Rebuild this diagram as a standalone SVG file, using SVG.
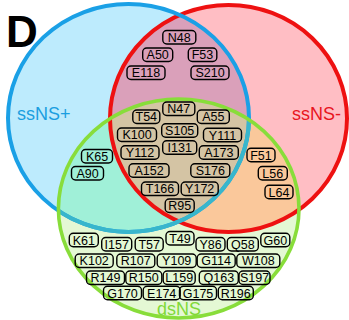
<svg xmlns="http://www.w3.org/2000/svg" width="349" height="320" viewBox="0 0 349 320">
<style>
.lb rect{fill:none;stroke:#000;stroke-width:1.4}
.lb text{font-family:"Liberation Sans",Arial,sans-serif;font-size:12.5px;fill:#000;text-anchor:middle}
.set{font-family:"Liberation Sans",Arial,sans-serif;font-size:18px}
</style>
<defs>
<clipPath id="cB"><ellipse cx="128.5" cy="118" rx="120.5" ry="114"/></clipPath>
<clipPath id="cR"><ellipse cx="228.5" cy="118.5" rx="118.5" ry="113.5"/></clipPath>
<clipPath id="cG"><ellipse cx="178.7" cy="208.5" rx="120.3" ry="109.5"/></clipPath>
</defs>
<rect width="349" height="320" fill="#fff"/>
<g id="regions">
<ellipse cx="128.5" cy="118" rx="120.5" ry="114" fill="#bdebfd"/>
<ellipse cx="228.5" cy="118.5" rx="118.5" ry="113.5" fill="#ffbec4"/>
<ellipse cx="178.7" cy="208.5" rx="120.3" ry="109.5" fill="#e4f8d4"/>
<g clip-path="url(#cB)">
<ellipse cx="228.5" cy="118.5" rx="118.5" ry="113.5" fill="#daa0ba"/>
<ellipse cx="178.7" cy="208.5" rx="120.3" ry="109.5" fill="#a0f0d8"/>
</g>
<g clip-path="url(#cR)">
<ellipse cx="178.7" cy="208.5" rx="120.3" ry="109.5" fill="#fac89b"/>
</g>
<g clip-path="url(#cB)"><g clip-path="url(#cR)">
<ellipse cx="178.7" cy="208.5" rx="120.3" ry="109.5" fill="#d4c4a4"/>
</g></g>
</g>
<g id="outlines" fill="none">
<ellipse id="ssNSminus" cx="228.5" cy="118.5" rx="118.5" ry="113.5" stroke="#ee1111" stroke-width="4"/>
<ellipse id="ssNSplus" cx="128.5" cy="118" rx="120.5" ry="114" stroke="#1aa0e6" stroke-width="4"/>
<ellipse cx="128.5" cy="118" rx="120.5" ry="114" stroke="#38b6cc" stroke-width="4" clip-path="url(#cG)"/>
<ellipse id="dsNS" cx="178.7" cy="208.5" rx="120.3" ry="109.5" stroke="#88dd3a" stroke-width="3.6"/>
</g>
<g id="connectors"/>
<text x="6" y="47" font-family="Liberation Sans,Arial,sans-serif" font-size="44" font-weight="bold" fill="#000">D</text>
<text class="set" x="17" y="120" fill="#1a9ee0">ssNS+</text>
<text class="set" x="292" y="119.5" fill="#e8141e">ssNS-</text>
<text class="set" x="157" y="315" fill="#80d838">dsNS</text>
<g class="lb">
<g id="N48"><rect x="162.8" y="30.5" width="33" height="13.5" rx="4"/><text x="179.3" y="41.7">N48</text></g>
<g id="A50"><rect x="142.7" y="48" width="30" height="13.5" rx="4"/><text x="157.7" y="59.2">A50</text></g>
<g id="F53"><rect x="188.3" y="48" width="28.5" height="13.5" rx="4"/><text x="202.5" y="59.2">F53</text></g>
<g id="E118"><rect x="127" y="66" width="38" height="13.5" rx="4"/><text x="146" y="77.2">E118</text></g>
<g id="S210"><rect x="191" y="66" width="38" height="13.5" rx="4"/><text x="210" y="77.2">S210</text></g>
<g id="N47"><rect x="162.8" y="102" width="32" height="13.5" rx="4"/><text x="178.8" y="113.2">N47</text></g>
<g id="T54"><rect x="132.8" y="110" width="27" height="13.5" rx="4"/><text x="146.3" y="121.2">T54</text></g>
<g id="A55"><rect x="197.3" y="110" width="32" height="13.5" rx="4"/><text x="213.3" y="121.2">A55</text></g>
<g id="K100"><rect x="117.5" y="128" width="39" height="13.5" rx="4"/><text x="137" y="139.2">K100</text></g>
<g id="S105"><rect x="161.7" y="123.8" width="36" height="13.5" rx="4"/><text x="179.7" y="135">S105</text></g>
<g id="Y111"><rect x="203.5" y="128.3" width="38" height="13.5" rx="4"/><text x="222.5" y="139.5">Y111</text></g>
<g id="Y112"><rect x="121" y="145.8" width="38" height="13.5" rx="4"/><text x="140" y="157">Y112</text></g>
<g id="I131"><rect x="162.7" y="140.8" width="34" height="13.5" rx="4"/><text x="179.7" y="152">I131</text></g>
<g id="A173"><rect x="199.3" y="145.8" width="39" height="13.5" rx="4"/><text x="218.8" y="157">A173</text></g>
<g id="A152"><rect x="129" y="163.8" width="40" height="13.5" rx="4"/><text x="149" y="175">A152</text></g>
<g id="S176"><rect x="190.8" y="163.8" width="39" height="13.5" rx="4"/><text x="210.3" y="175">S176</text></g>
<g id="T166"><rect x="141.5" y="182" width="37" height="13.5" rx="4"/><text x="160" y="193.2">T166</text></g>
<g id="Y172"><rect x="181.2" y="182" width="37" height="13.5" rx="4"/><text x="199.7" y="193.2">Y172</text></g>
<g id="R95"><rect x="165.2" y="199" width="29" height="13.5" rx="4"/><text x="179.7" y="210.2">R95</text></g>
<g id="K65"><rect x="81.5" y="149.5" width="31" height="13.5" rx="4"/><text x="97" y="160.7">K65</text></g>
<g id="A90"><rect x="71.5" y="166.5" width="32" height="13.5" rx="4"/><text x="87.5" y="177.7">A90</text></g>
<g id="F51"><rect x="247" y="148.3" width="28" height="13.5" rx="4"/><text x="261" y="159.5">F51</text></g>
<g id="L56"><rect x="258.3" y="166.5" width="29" height="13.5" rx="4"/><text x="272.8" y="177.7">L56</text></g>
<g id="L64"><rect x="265" y="185.3" width="28" height="13.5" rx="4"/><text x="279" y="196.5">L64</text></g>
<g id="K61"><rect x="69.3" y="233.3" width="29" height="13.5" rx="4"/><text x="83.8" y="244.5">K61</text></g>
<g id="I157"><rect x="101.7" y="237.5" width="30" height="13.5" rx="4"/><text x="116.7" y="248.7">I157</text></g>
<g id="T57"><rect x="135.2" y="237.5" width="28" height="13.5" rx="4"/><text x="149.2" y="248.7">T57</text></g>
<g id="T49"><rect x="166" y="231.5" width="28" height="13.5" rx="4"/><text x="180" y="242.7">T49</text></g>
<g id="Y86"><rect x="196" y="237.5" width="29" height="13.5" rx="4"/><text x="210.5" y="248.7">Y86</text></g>
<g id="Q58"><rect x="227.3" y="237.5" width="31" height="13.5" rx="4"/><text x="242.8" y="248.7">Q58</text></g>
<g id="G60"><rect x="260.8" y="233.3" width="29" height="13.5" rx="4"/><text x="275.3" y="244.5">G60</text></g>
<g id="K102"><rect x="75.2" y="254" width="38" height="13.5" rx="4"/><text x="94.2" y="265.2">K102</text></g>
<g id="R107"><rect x="116.8" y="254" width="38" height="13.5" rx="4"/><text x="135.8" y="265.2">R107</text></g>
<g id="Y109"><rect x="157.2" y="254" width="39" height="13.5" rx="4"/><text x="176.7" y="265.2">Y109</text></g>
<g id="G114"><rect x="197.2" y="254" width="38" height="13.5" rx="4"/><text x="216.2" y="265.2">G114</text></g>
<g id="W108"><rect x="236.8" y="254" width="43" height="13.5" rx="4"/><text x="258.3" y="265.2">W108</text></g>
<g id="R149"><rect x="86.5" y="271" width="38" height="13.5" rx="4"/><text x="105.5" y="282.2">R149</text></g>
<g id="R150"><rect x="125.8" y="271" width="36" height="13.5" rx="4"/><text x="143.8" y="282.2">R150</text></g>
<g id="L159"><rect x="163.2" y="271" width="32" height="13.5" rx="4"/><text x="179.2" y="282.2">L159</text></g>
<g id="Q163"><rect x="199.3" y="271" width="39" height="13.5" rx="4"/><text x="218.8" y="282.2">Q163</text></g>
<g id="S197"><rect x="239" y="271" width="31" height="13.5" rx="4"/><text x="254.5" y="282.2">S197</text></g>
<g id="G170"><rect x="103.5" y="286.3" width="38" height="13.5" rx="4"/><text x="122.5" y="297.5">G170</text></g>
<g id="E174"><rect x="143.2" y="286.3" width="37" height="13.5" rx="4"/><text x="161.7" y="297.5">E174</text></g>
<g id="G175"><rect x="179.5" y="286.3" width="37" height="13.5" rx="4"/><text x="198" y="297.5">G175</text></g>
<g id="R196"><rect x="218.3" y="286.3" width="35" height="13.5" rx="4"/><text x="235.8" y="297.5">R196</text></g>
</g>
</svg>
